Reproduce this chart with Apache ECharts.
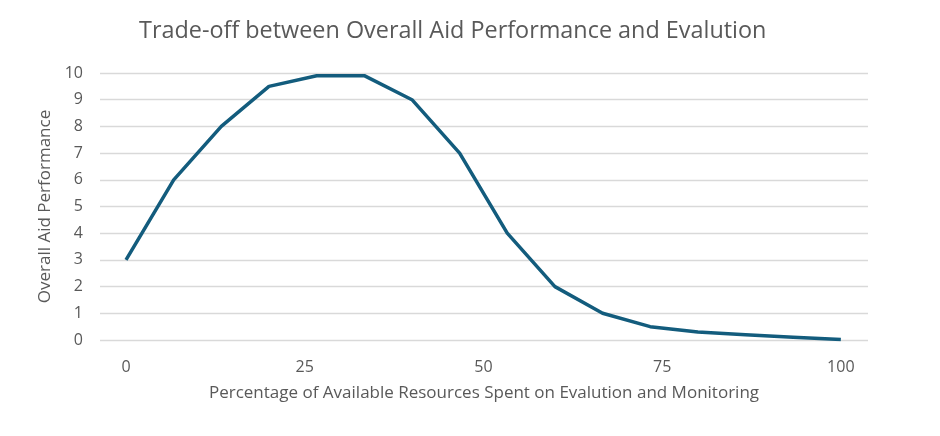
<!DOCTYPE html>
<html>
<head>
<meta charset="utf-8">
<script src="https://cdn.jsdelivr.net/npm/echarts@6/dist/echarts.min.js"></script>
<style>html,body{margin:0;padding:0;background:#fff;}#c{width:940px;height:436px;}</style>
</head>
<body>
<div id="c"></div>
<script>
const resourcePct = [0, 6.67, 13.33, 20, 26.67, 33.33, 40, 46.67, 53.33, 60, 66.67, 73.33, 80, 86.67, 93.33, 100];
const performance = [3, 6, 8, 9.5, 9.9, 9.9, 9, 7, 4, 2, 1, 0.5, 0.3, 0.2, 0.1, 0.02];
const xTicks = [0, 25, 50, 75, 100];
const yTicks = [0, 1, 2, 3, 4, 5, 6, 7, 8, 9, 10];

const chart = echarts.init(document.getElementById('c'), null, {renderer: 'canvas'});
const font = '"Open Sans", "Noto Sans", sans-serif';
chart.setOption({
  animation: false,
  backgroundColor: '#ffffff',
  title: {
    text: 'Trade-off between Overall Aid Performance and Evalution',
    left: 134, top: 15,
    textStyle: {fontFamily: font, fontSize: 23.4, fontWeight: 'normal', color: '#595959'}
  },
  grid: {left: 100, right: 72, top: 73, bottom: 96, containLabel: false},
  xAxis: {
    type: 'value', min: -3.64, max: 103.8,
    name: 'Percentage of Available Resources Spent on Evalution and Monitoring',
    nameLocation: 'middle', nameGap: 45,
    nameTextStyle: {fontFamily: font, fontSize: 17, color: '#595959'},
    axisLine: {show: false}, axisTick: {show: false}, splitLine: {show: false},
    axisLabel: {customValues: xTicks, fontFamily: font, fontSize: 16, color: '#595959', margin: 19}
  },
  yAxis: {
    type: 'value', min: 0, max: 10, interval: 1,
    name: 'Overall Aid Performance',
    nameLocation: 'middle', nameGap: 42, nameRotate: 90,
    nameTextStyle: {fontFamily: font, fontSize: 17, color: '#595959'},
    axisLine: {show: false}, axisTick: {show: false},
    splitLine: {lineStyle: {color: '#d9d9d9', width: 1.3}},
    axisLabel: {fontFamily: font, fontSize: 16, color: '#595959', margin: 17}
  },
  series: [{
    type: 'line',
    data: resourcePct.map((x, i) => [x, performance[i]]),
    showSymbol: false,
    lineStyle: {color: '#135C7D', width: 3.5, join: 'round'},
    itemStyle: {color: '#135C7D'}
  }]
});
</script>
</body>
</html>
